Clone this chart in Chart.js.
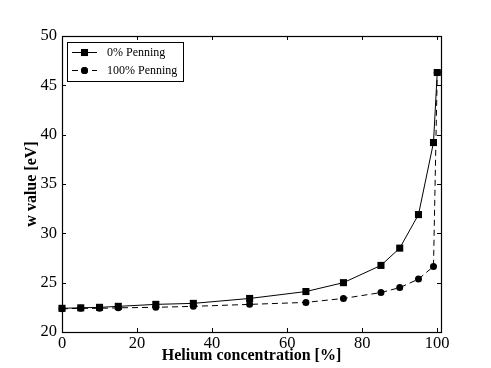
<!DOCTYPE html>
<html>
<head>
<meta charset="utf-8">
<script src="https://cdn.jsdelivr.net/npm/chart.js@4/dist/chart.umd.min.js"></script>
<style>
html,body{margin:0;padding:0;background:#fff;}
#c{display:block;}
</style>
</head>
<body>
<canvas id="c" width="491" height="368"></canvas>
<script>
const helium = [0, 5, 10, 15, 25, 35, 50, 65, 75, 85, 90, 95, 99, 100];
const penning0 = [22.4, 22.45, 22.5, 22.6, 22.8, 22.9, 23.4, 24.1, 25.0, 26.75, 28.5, 31.9, 39.2, 46.3];
const penning100 = [22.35, 22.4, 22.4, 22.45, 22.5, 22.6, 22.8, 23.0, 23.4, 24.0, 24.5, 25.36, 26.65, 46.3];
const xTicks = [0, 20, 40, 60, 80, 100];
const yTicks = [20, 25, 30, 35, 40, 45, 50];
const seriesLabels = ['0% Penning', '100% Penning'];
const xTitle = 'Helium concentration [%]';
const yTitle = 'w value [eV]';

const SERIF = '"Liberation Serif", "DejaVu Serif", serif';

const framePlugin = {
  id: 'frame',
  beforeDatasetsDraw(chart) {
    const {ctx, chartArea: a, scales: {x, y}} = chart;
    ctx.save();
    ctx.strokeStyle = '#000';
    ctx.lineWidth = 1;
    const tl = 4;
    ctx.beginPath();
    xTicks.forEach(v => {
      const px = Math.round(x.getPixelForValue(v)) + 0.5;
      ctx.moveTo(px, a.bottom); ctx.lineTo(px, a.bottom - tl);
      ctx.moveTo(px, a.top); ctx.lineTo(px, a.top + tl);
    });
    yTicks.forEach(v => {
      const py = Math.round(y.getPixelForValue(v)) + 0.5;
      ctx.moveTo(a.left, py); ctx.lineTo(a.left + tl, py);
      ctx.moveTo(a.right, py); ctx.lineTo(a.right - tl, py);
    });
    ctx.stroke();
    ctx.lineWidth = 1.2;
    ctx.strokeRect(Math.round(a.left) + 0.5, Math.round(a.top) + 0.5,
                   Math.round(a.right - a.left), Math.round(a.bottom - a.top));
    ctx.restore();
  }
};

const legendPlugin = {
  id: 'boxLegend',
  afterDatasetsDraw(chart) {
    const {ctx, chartArea: a} = chart;
    const bx = a.left + 5, by = a.top + 6, bw = 116, bh = 39;
    ctx.save();
    ctx.fillStyle = '#fff';
    ctx.fillRect(bx, by, bw, bh);
    ctx.strokeStyle = '#000';
    ctx.lineWidth = 1;
    ctx.strokeRect(bx + 0.5, by + 0.5, bw, bh);
    chart.data.datasets.forEach((ds, i) => {
      const cy = by + 10.5 + i * 18;
      const x0 = bx + 5, x1 = bx + 30;
      ctx.beginPath();
      ctx.setLineDash(ds.borderDash || []);
      ctx.strokeStyle = '#000';
      ctx.lineWidth = 1;
      ctx.moveTo(x0, cy); ctx.lineTo(x1, cy);
      ctx.stroke();
      ctx.setLineDash([]);
      Chart.helpers.drawPoint(ctx, {pointStyle: ds.pointStyle, radius: ds.pointRadius, borderWidth: 0}, (x0 + x1) / 2, cy);
      ctx.fillStyle = '#000';
      ctx.fill();
      ctx.font = '12px ' + SERIF;
      ctx.textBaseline = 'middle';
      ctx.textAlign = 'left';
      ctx.fillText(ds.label, bx + 40, cy + 0.5);
    });
    ctx.restore();
  }
};

new Chart(document.getElementById('c'), {
  type: 'line',
  data: {
    datasets: [
      {
        label: seriesLabels[0],
        data: helium.map((h, i) => ({x: h, y: penning0[i]})),
        borderColor: '#000', backgroundColor: '#000', borderWidth: 1,
        pointStyle: 'rect', pointRadius: 5, pointBorderWidth: 0,
        pointBackgroundColor: '#000', tension: 0, clip: false
      },
      {
        label: seriesLabels[1],
        data: helium.map((h, i) => ({x: h, y: penning100[i]})),
        borderColor: '#000', backgroundColor: '#000', borderWidth: 1,
        borderDash: [6, 4],
        pointStyle: 'circle', pointRadius: 3.5, pointBorderWidth: 0,
        pointBackgroundColor: '#000', tension: 0, clip: false
      }
    ]
  },
  options: {
    responsive: false,
    animation: false,
    devicePixelRatio: 1,
    layout: {padding: {top: 36, right: 50, bottom: 0, left: 0}},
    plugins: {legend: {display: false}, tooltip: {enabled: false}},
    scales: {
      x: {
        type: 'linear', min: 0, max: 101,
        afterBuildTicks: s => { s.ticks = xTicks.map(v => ({value: v})); },
        afterFit: s => { s.height = 36; },
        grid: {display: false, drawTicks: false},
        border: {display: false},
        ticks: {color: '#000', font: {family: SERIF, size: 16.5}, padding: 2, maxRotation: 0,
                callback: v => String(v)},
        title: {display: true, text: xTitle, color: '#000',
                font: {family: SERIF, size: 16, weight: 'bold'}, padding: {top: 0, bottom: 3}}
      },
      y: {
        type: 'linear', min: 20, max: 50,
        afterBuildTicks: s => { s.ticks = yTicks.map(v => ({value: v})); },
        afterFit: s => { s.width = 62; },
        grid: {display: false, drawTicks: false},
        border: {display: false},
        ticks: {color: '#000', font: {family: SERIF, size: 16.5}, padding: 5,
                callback: v => String(v)},
        title: {display: true, text: yTitle, color: '#000',
                font: {family: SERIF, size: 16, weight: 'bold'}, padding: {top: 22, bottom: 0}}
      }
    }
  },
  plugins: [framePlugin, legendPlugin]
});
</script>
</body>
</html>
